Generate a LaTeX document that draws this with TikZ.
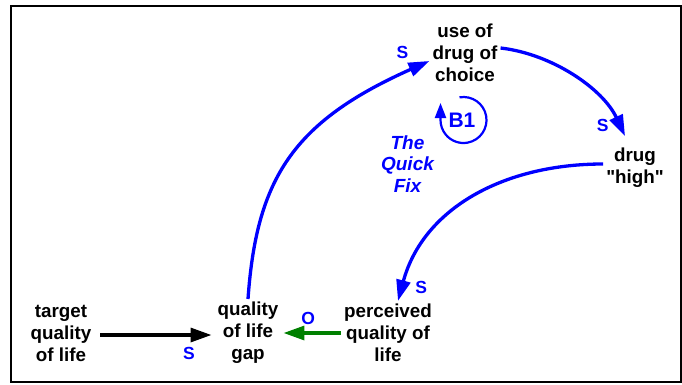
\documentclass[tikz,border=0pt]{standalone}
\usepackage{fontspec}
\setmainfont{Liberation Sans}[Ligatures=TeXOff]
\usetikzlibrary{arrows.meta,positioning,calc}
\definecolor{cldblue}{RGB}{0,0,255}
\definecolor{cldgreen}{RGB}{0,128,0}

\begin{document}
\begin{tikzpicture}[x=1pt, y=1pt,
  var/.style={align=center, inner sep=3pt, font=\fontsize{18.8}{22}\selectfont\bfseries},
  pol/.style={text=cldblue, inner sep=0pt, font=\fontsize{17.5}{20}\selectfont\bfseries},
  link/.style={line width=3.3pt, -{Triangle[length=21pt,width=14pt]}}]
  \useasboundingbox (0,0) rectangle (682,384);
  \draw[line width=2.5pt] (11,2) rectangle (681,378);

  \node[var] (gap) at (248,51) {quality\\of life\\gap};
  \node[var] (target) at ($(gap)+(-187,0)$) {target\\quality\\of life};
  \node[var] (perceived) at ($(gap)+(140,0)$) {perceived\\quality of\\life};
  \node[var] (use) at (465,331) {use of\\drug of\\choice};
  \node[var] (high) at ($(use)+(170,-115)$) {drug\\"high"};

  % loop name
  \node[text=cldblue, inner sep=0pt, font=\fontsize{21}{24}\selectfont\bfseries] (b1) at (462,264) {B1};
  \node[text=cldblue, align=center, font=\fontsize{19}{21.5}\selectfont\bfseries\itshape] (fix) at (407.5,220) {The\\Quick\\Fix};

  % links
  \draw[link, shorten <=6pt, shorten >=3pt] ([yshift=-2pt]target.east) -- ([yshift=-2pt]gap.west);
  \draw[link, cldgreen, shorten >=2pt] (perceived.west) -- (gap.east);
  \draw[link, cldblue] (gap.north) .. controls +(8.4,119.7) and +(-137,-61) .. ([yshift=-8pt]use.west);
  \draw[link, cldblue] ([yshift=5pt]use.east) .. controls +(52,-6) and +(-22,47) .. ([xshift=-10pt,yshift=9pt]high.north);
  \draw[link, cldblue] ([yshift=4pt]high.west) .. controls +(-100,0) and +(25,92) .. ([xshift=10pt]perceived.north);

  % polarities
  \node[pol] (s1) at (402.5,331.3) {S};
  \node[pol] (s2) at (602.7,259) {S};
  \node[pol] (s3) at (421.2,97) {S};
  \node[pol] (s4) at (189,31) {S};
  \node[pol] (o1) at (308.3,65.7) {O};

  % loop marker
  \draw[cldblue, line width=2.2pt, -{Triangle[length=15pt,width=11pt]}]
    ($(b1.center)+(1.5,0)+(100:23)$) arc[start angle=100, end angle=-180, radius=23] -- ++(0,17);
\end{tikzpicture}
\end{document}
